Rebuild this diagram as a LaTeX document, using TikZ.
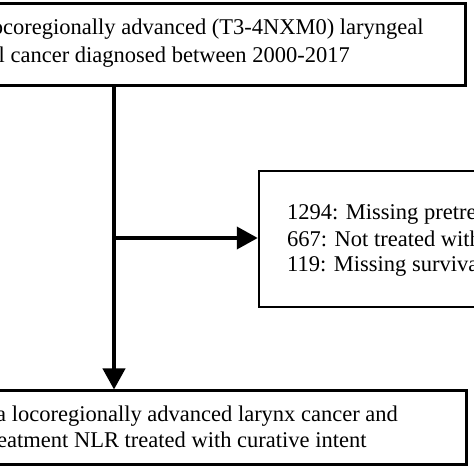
\documentclass[tikz,border=0pt]{standalone}
\usepackage{fontspec}
\setmainfont{Liberation Serif}
\usetikzlibrary{arrows.meta}
\begin{document}
\begin{tikzpicture}[x=1pt,y=1pt,
  box/.style={draw=black,line width=3pt,fill=none,inner sep=0pt,rectangle},
  txt/.style={anchor=base west,inner sep=0pt,font=\fontsize{22.5}{27}\selectfont},
  flow/.style={line width=4pt,-{Triangle[length=21pt,width=22pt]}}]
\useasboundingbox (0,0) rectangle (474,474);
\fill[white] (0,0) rectangle (474,474);
\begin{scope}
\clip (0,0) rectangle (474,474);
% boxes
\node[box,minimum width=525pt,minimum height=82pt] (top) at (202.5,429) {};
\node[box,line width=2.5pt,minimum width=301pt,minimum height=136pt] (mid) at (409.5,235) {};
\node[box,minimum width=526pt,minimum height=74pt] (bot) at (203,46) {};
% texts
\node[txt] (t1) at (-14.5,439) {locoregionally advanced (T3-4NXM0) laryngeal};
\node[txt] (t2) at (-1.5,411) {l cancer diagnosed between 2000-2017};
\node[txt] (m1) at (287,254) {1294: Missing pretreatment};
\node[txt] (m2) at (287,227) {667: Not treated with};
\node[txt] (m3) at (287,202) {119: Missing survival};
\node[txt] (b1) at (-4,52) {a locoregionally advanced larynx cancer and};
\node[txt] (b2) at (-3,26) {eatment NLR treated with curative intent};
% connectors
\coordinate (j) at (114,236);
\draw[flow] (top.south -| j) -- (bot.north -| j);
\draw[flow] (j) -- (mid.west |- j);
\end{scope}
\end{tikzpicture}
\end{document}
